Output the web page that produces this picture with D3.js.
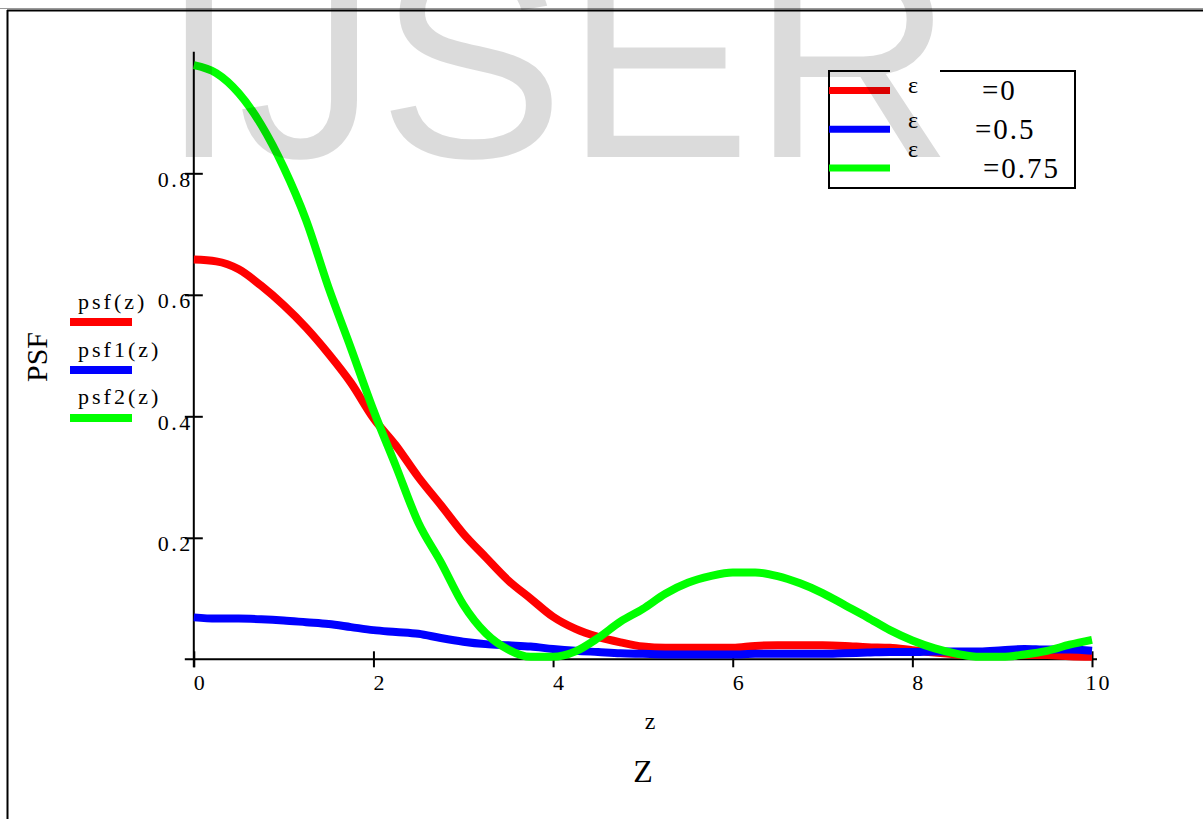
<!DOCTYPE html>
<html>
<head>
<meta charset="utf-8">
<script src="https://cdn.jsdelivr.net/npm/d3@7"></script>
<style>
  body { margin: 0; background: #fff; }
  svg { display: block; }
  text { font-family: 'Liberation Serif', 'Times New Roman', serif; }
  text.watermark { font-family: 'Liberation Sans', Arial, sans-serif; }
</style>
</head>
<body>
<svg id="chart"></svg>
<script>
// sample points along z
const zValues = [0, 0.25, 0.5, 0.75, 1, 1.25, 1.5, 1.75, 2, 2.25, 2.5, 2.75, 3, 3.25, 3.5, 3.75, 4,
  4.25, 4.5, 4.75, 5, 5.25, 5.5, 5.75, 6, 6.25, 6.5, 6.75, 7, 7.25, 7.5, 7.75, 8,
  8.25, 8.5, 8.75, 9, 9.25, 9.5, 9.75, 10];

// psf(z), eps = 0
const psf = [0.658, 0.655, 0.642, 0.615, 0.583, 0.546, 0.503, 0.455, 0.397, 0.352, 0.300, 0.254, 0.207,
  0.168, 0.130, 0.100, 0.070, 0.050, 0.037, 0.028, 0.021, 0.019, 0.019, 0.019, 0.019, 0.022, 0.023,
  0.023, 0.023, 0.022, 0.020, 0.019, 0.015, 0.011, 0.008, 0.006, 0.006, 0.007, 0.007, 0.005, 0.004];

// psf1(z), eps = 0.5
const psf1 = [0.069, 0.067, 0.067, 0.066, 0.064, 0.061, 0.058, 0.053, 0.048, 0.045, 0.042, 0.035, 0.029,
  0.025, 0.023, 0.021, 0.017, 0.014, 0.012, 0.010, 0.009, 0.008, 0.008, 0.008, 0.008, 0.009, 0.009,
  0.009, 0.009, 0.010, 0.011, 0.012, 0.012, 0.013, 0.013, 0.013, 0.015, 0.017, 0.016, 0.016, 0.014];

// psf2(z), eps = 0.75
const psf2 = [0.978, 0.965, 0.932, 0.880, 0.810, 0.723, 0.612, 0.512, 0.410, 0.318, 0.225, 0.160, 0.090,
  0.043, 0.016, 0.004, 0.004, 0.013, 0.035, 0.062, 0.083, 0.108, 0.126, 0.137, 0.143, 0.143, 0.137,
  0.125, 0.109, 0.089, 0.069, 0.048, 0.031, 0.018, 0.009, 0.004, 0.004, 0.008, 0.014, 0.024, 0.032];

const xTicks = [0, 2, 4, 6, 8, 10];
const yTicks = [0.2, 0.4, 0.6, 0.8];
const seriesNames = ['psf(z)', 'psf1(z)', 'psf2(z)'];
const epsLabels = ['=0', '=0.5', '=0.75'];
const colors = ['#ff0000', '#0000ff', '#00ff00'];

const width = 1203, height = 819;

const svg = d3.select('#chart')
              .attr('width', width)
              .attr('height', height);

svg.append('rect')
   .attr('width', width)
   .attr('height', height)
   .attr('fill', '#fff');

// outer frame (top double line + left edge)
svg.append('line')
   .attr('x1', 0).attr('x2', width).attr('y1', 8.5).attr('y2', 8.5)
   .attr('stroke', '#9a9a9a').attr('stroke-width', 1);
svg.append('line')
   .attr('x1', 7).attr('x2', width).attr('y1', 10.5).attr('y2', 10.5)
   .attr('stroke', '#000').attr('stroke-width', 2);
svg.append('line')
   .attr('x1', 7.5).attr('x2', 7.5).attr('y1', 10).attr('y2', height)
   .attr('stroke', '#000').attr('stroke-width', 2);

const x = d3.scaleLinear().domain([0, 10]).range([193.8, 1092]),
      y = d3.scaleLinear().domain([0, 1]).range([659.3, 51.8]);

// axes
const axes = svg.append('g').classed('axes', true);

axes.append('line')
    .attr('x1', x(0) - 9).attr('x2', x(10) + 5)
    .attr('y1', y(0)).attr('y2', y(0))
    .attr('stroke', '#000').attr('stroke-width', 2);
axes.append('line')
    .attr('x1', x(0)).attr('x2', x(0))
    .attr('y1', y(1)).attr('y2', y(0) + 8)
    .attr('stroke', '#000').attr('stroke-width', 2);

const xAxis = axes.append('g')
    .attr('transform', `translate(0, ${y(0)})`)
    .call(d3.axisBottom(x).tickValues(xTicks).tickFormat(d3.format('d')));
xAxis.select('.domain').remove();
xAxis.selectAll('.tick line')
     .attr('y1', -8).attr('y2', 8)
     .attr('stroke-width', 2);
xAxis.selectAll('.tick text')
     .attr('y', 31).attr('dy', 0).attr('dx', 6)
     .attr('font-size', '22px')
     .attr('letter-spacing', '2px');

const yAxis = axes.append('g')
    .attr('transform', `translate(${x(0)}, 0)`)
    .call(d3.axisLeft(y).tickValues(yTicks).tickFormat(d3.format('.1f')));
yAxis.select('.domain').remove();
yAxis.selectAll('.tick line')
     .attr('x1', -9).attr('x2', 9)
     .attr('stroke-width', 2);
yAxis.selectAll('.tick text')
     .attr('x', -1).attr('dy', 0).attr('y', 13)
     .attr('font-size', '22px')
     .attr('letter-spacing', '2.5px')
     .attr('fill', '#000');

// curves
const series = [psf, psf1, psf2];
const line = d3.line()
               .x((d, i) => x(zValues[i]))
               .y(d => y(d))
               .curve(d3.curveMonotoneX);

svg.append('g')
   .selectAll('path')
   .data(series)
   .enter()
   .append('path')
   .attr('d', line)
   .attr('fill', 'none')
   .attr('stroke', (d, i) => colors[i])
   .attr('stroke-width', 8)
   .attr('stroke-linejoin', 'round');

// trace labels on the left
const traces = svg.append('g').classed('traces', true);
seriesNames.forEach((name, i) => {
  traces.append('text')
        .attr('x', 78).attr('y', 309 + i * 47.5)
        .attr('font-size', '22px')
        .attr('letter-spacing', '3px')
        .text(name);
  traces.append('line')
        .attr('x1', 70).attr('x2', 132)
        .attr('y1', 322 + i * 48).attr('y2', 322 + i * 48)
        .attr('stroke', colors[i]).attr('stroke-width', 8);
});

// axis titles
svg.append('text')
   .attr('x', 650).attr('y', 729)
   .attr('text-anchor', 'middle')
   .attr('font-size', '24px')
   .text('z');
svg.append('text')
   .attr('x', 643).attr('y', 782)
   .attr('text-anchor', 'middle')
   .attr('font-size', '32px')
   .text('Z');
svg.append('text')
   .attr('transform', 'translate(47, 357) rotate(-90)')
   .attr('text-anchor', 'middle')
   .attr('font-size', '30px')
   .text('PSF');

// legend box
const legend = svg.append('g').classed('legend', true);
legend.append('path')
      .attr('d', 'M890,71 H829 V188 H1075 V71 H940')
      .attr('fill', 'none')
      .attr('stroke', '#000')
      .attr('stroke-width', 2);

const epsX = [982, 975, 983],
      epsY = [100, 139, 178],
      symY = [93, 128, 157];
epsLabels.forEach((lab, i) => {
  legend.append('line')
        .attr('x1', 829).attr('x2', 890)
        .attr('y1', 90.5 + i * 38.7).attr('y2', 90.5 + i * 38.7)
        .attr('stroke', colors[i]).attr('stroke-width', 7);
  legend.append('text')
        .attr('x', 908).attr('y', symY[i])
        .attr('font-size', '24px')
        .text('\u03b5');
  legend.append('text')
        .attr('x', epsX[i]).attr('y', epsY[i])
        .attr('font-size', '29px')
        .attr('letter-spacing', '2px')
        .text(lab);
});

// watermark
svg.append('text')
   .classed('watermark', true)
   .attr('x', 160).attr('y', 157)
   .attr('font-size', '280px')
   .attr('fill', '#000')
   .attr('fill-opacity', 0.14)
   .text('IJSER');
</script>
</body>
</html>
